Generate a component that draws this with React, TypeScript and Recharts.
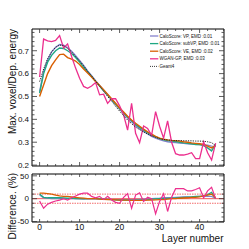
import React from 'react';
import { ComposedChart, Line, XAxis, YAxis, ReferenceLine, Legend } from 'recharts';

const layers = [0,1,2,3,4,5,6,7,8,9,10,11,12,13,14,15,16,17,18,19,20,21,22,23,24,25,26,27,28,29,30,31,32,33,34,35,36,37,38,39,40,41,42,43,44];

const geant4 = [0.565,0.62,0.665,0.695,0.715,0.725,0.722,0.71,0.695,0.675,0.655,0.635,0.61,0.59,0.567,0.545,0.522,0.5,0.48,0.457,0.436,0.416,0.397,0.381,0.366,0.355,0.345,0.336,0.328,0.321,0.316,0.312,0.31,0.308,0.307,0.307,0.307,0.306,0.306,0.305,0.305,0.304,0.302,0.298,0.285];
const caloVP = [0.52,0.61,0.66,0.695,0.715,0.727,0.724,0.713,0.698,0.678,0.657,0.636,0.612,0.591,0.569,0.548,0.527,0.507,0.487,0.466,0.445,0.425,0.406,0.389,0.373,0.359,0.347,0.336,0.326,0.318,0.311,0.306,0.302,0.3,0.298,0.296,0.295,0.293,0.292,0.291,0.29,0.289,0.287,0.283,0.282];
const caloSubVP = [0.515,0.6,0.65,0.68,0.7,0.712,0.71,0.7,0.688,0.67,0.65,0.628,0.607,0.587,0.566,0.546,0.526,0.507,0.487,0.467,0.447,0.428,0.41,0.394,0.378,0.365,0.353,0.342,0.332,0.323,0.316,0.311,0.307,0.305,0.303,0.3,0.297,0.295,0.293,0.29,0.29,0.285,0.275,0.262,0.292];
const caloVE = [0.5,0.55,0.6,0.635,0.66,0.683,0.685,0.67,0.663,0.655,0.64,0.62,0.603,0.585,0.565,0.548,0.53,0.51,0.49,0.47,0.45,0.432,0.414,0.397,0.383,0.37,0.357,0.345,0.335,0.326,0.318,0.313,0.31,0.308,0.307,0.305,0.302,0.3,0.297,0.295,0.293,0.29,0.283,0.275,0.285];
const wgan = [0.585,0.751,0.743,0.74,0.745,0.766,0.712,0.73,0.675,0.624,0.58,0.544,0.536,0.546,0.561,0.507,0.51,0.47,0.49,0.49,0.459,0.42,0.353,0.47,0.339,0.298,0.371,0.36,0.33,0.434,0.37,0.318,0.393,0.3,0.25,0.244,0.244,0.248,0.254,0.228,0.228,0.302,0.254,0.222,0.296];

const diffVP = [8,2,1,0,0,0,0,0,0,0,-0.5,-0.5,-0.5,-0.5,-0.5,-1,-1,-1.5,-1.5,-2,-2,-2,-2,-2,-2,-1.5,-1,-0.5,0,0.5,1,2,2.5,2.5,3,3.5,4,4,4,4.5,5,5,5,5,1];
const diffSubVP = [10,3,2,2,2,2,1.5,1,1,0,0,-0.5,0,0,0,-0.5,-1,-1.5,-2,-2.5,-3,-3,-3,-3.5,-3,-3,-2.5,-2,-1,-0.5,0,0,0.5,1,1.5,2.5,3,3.5,4,5,5,6,9,14,0];
const diffVE = [12,12,11,10,8,6,5,5,4,3,2,1,0,0,0,-1,-1.5,-2,-2,-2.5,-3,-3,-3,-3.5,-3.5,-3.5,-3.5,-3,-3,-2.5,-2,-2,-1,0,0,1,1.5,2,3,3,4,6,8,10,2];
const diffWGAN = [-5,-21,-12,-8,-5,-3,0,-3,2,6,10,12,12,5,2,5,-2,5,-3,-8,-10,3,11,-21,8,13,-6,3,0,-33,-6,11,-28,3,22,22,22,17,17,20,24,2,17,25,0];

const xTicks = [0,2,4,6,8,10,12,14,16,18,20,22,24,26,28,30,32,34,36,38,40,42,44,46];
const xMajor = [0,10,20,30,40];
const yTopTicks = [0.2,0.22,0.24,0.26,0.28,0.3,0.32,0.34,0.36,0.38,0.4,0.42,0.44,0.46,0.48,0.5,0.52,0.54,0.56,0.58,0.6,0.62,0.64,0.66,0.68,0.7,0.72,0.74,0.76,0.78];
const yTopMajor = [0.2,0.3,0.4,0.5,0.6,0.7];
const yBotTicks = [-50,-40,-30,-20,-10,0,10,20,30,40,50];
const yBotMajor = [-50,0,50];

const seriesNames = ['CaloScore: VP, EMD :0.01','CaloScore: subVP, EMD :0.01','CaloScore: VE, EMD :0.02','WGAN-GP, EMD :0.03','Geant4'];
const colors = ['#8580cc','#1fa883','#d95f02','#ec2f8e','#222222'];

const topData = layers.map((l, i) => ({ layer: l, vp: caloVP[i], subvp: caloSubVP[i], ve: caloVE[i], wgan: wgan[i], g4: geant4[i] }));
const botData = layers.map((l, i) => ({ layer: l, vp: diffVP[i], subvp: diffSubVP[i], ve: diffVE[i], wgan: diffWGAN[i] }));

const FONT = '"Liberation Sans", Arial, Helvetica, sans-serif';
const isIn = (arr: number[], v: number) => arr.some((a) => Math.abs(a - v) < 1e-6);
const TICK = '#333';

const makeLeftTick = (major: number[], fmt: (v: number) => string) => (props: any) => {
  const { x, y, payload } = props;
  const mj = isIn(major, payload.value);
  return (
    <g>
      <line x1={x} x2={x + (mj ? 5 : 2.5)} y1={y} y2={y} stroke={TICK} strokeWidth={0.8} />
      {mj && (
        <text x={x - 3} y={y} dy="0.35em" textAnchor="end" fontSize={8} fontFamily={FONT} fill="#111">
          {fmt(payload.value)}
        </text>
      )}
    </g>
  );
};
const makeRightTick = (major: number[]) => (props: any) => {
  const { x, y, payload } = props;
  const mj = isIn(major, payload.value);
  return <line x1={x} x2={x - (mj ? 5 : 2.5)} y1={y} y2={y} stroke={TICK} strokeWidth={0.8} />;
};
const makeBottomTick = (len: number, showLabel: boolean) => (props: any) => {
  const { x, y, payload } = props;
  const mj = isIn(xMajor, payload.value);
  return (
    <g>
      <line x1={x} x2={x} y1={y} y2={y - (mj ? len : len / 2)} stroke={TICK} strokeWidth={0.8} />
      {mj && showLabel && (
        <text x={x} y={y + 8.2} textAnchor="middle" fontSize={8.5} fontFamily={FONT} fill="#111">
          {payload.value}
        </text>
      )}
    </g>
  );
};
const makeTopTick = (len: number) => (props: any) => {
  const { x, y, payload } = props;
  const mj = isIn(xMajor, payload.value);
  return <line x1={x} x2={x} y1={y} y2={y + (mj ? len : len / 2)} stroke={TICK} strokeWidth={0.8} />;
};

const LegendBox = () => (
  <svg width={80} height={42}>
    {seriesNames.map((n, i) => {
      const y = 6 + i * 7.6;
      return (
        <g key={n}>
          <line x1={0} x2={8.3} y1={y} y2={y} stroke={colors[i]} strokeWidth={i === 4 ? 0.9 : 1.3} strokeDasharray={i === 4 ? '1 1' : undefined} />
          <text x={9.6} y={y} dy="0.35em" fontSize={4.5} fontFamily={FONT} fill="#111">{n}</text>
        </g>
      );
    })}
  </svg>
);

const xDomain: [number, number] = [-1.9, 46.1];

export default function App() {
  return (
    <div style={{ position: 'absolute', left: 0, top: 0, width: 249, height: 249, background: '#fff' }}>
      <div style={{ position: 'absolute', left: 0, top: 0 }}>
        <ComposedChart width={249} height={170} data={topData} margin={{ top: 0, right: 0, bottom: 0, left: 0 }}>
          <XAxis dataKey="layer" type="number" xAxisId="b" domain={xDomain} ticks={xTicks} interval={0} allowDataOverflow
            height={4} tickSize={0} tickMargin={0} tickLine={false} axisLine={{ stroke: '#000' }} tick={makeBottomTick(4, false)} />
          <XAxis dataKey="layer" type="number" xAxisId="t" orientation="top" domain={xDomain} ticks={xTicks} interval={0} allowDataOverflow
            height={29} tickSize={0} tickMargin={0} tickLine={false} axisLine={{ stroke: '#000' }} tick={makeTopTick(4)} />
          <YAxis yAxisId="l" type="number" domain={[0.196, 0.795]} ticks={yTopTicks} interval={0} allowDataOverflow width={32}
            tickSize={0} tickMargin={0} tickLine={false} axisLine={{ stroke: '#000' }} tick={makeLeftTick(yTopMajor, (v) => v.toFixed(1))}
            label={() => (
              <text x={15.5} y={29} transform="rotate(-90 15.5 29)" textAnchor="end" fontSize={10} fontFamily={FONT} fill="#111">
                Max. voxel/Dep. energy
              </text>
            )} />
          <YAxis yAxisId="r" orientation="right" type="number" domain={[0.196, 0.795]} ticks={yTopTicks} interval={0} allowDataOverflow width={25}
            tickSize={0} tickMargin={0} tickLine={false} axisLine={{ stroke: '#000' }} tick={makeRightTick(yTopMajor)} />
          <Line xAxisId="b" yAxisId="l" dataKey="vp" stroke={colors[0]} strokeWidth={1.4} dot={false} isAnimationActive={false} />
          <Line xAxisId="b" yAxisId="l" dataKey="subvp" stroke={colors[1]} strokeWidth={1.4} dot={false} isAnimationActive={false} />
          <Line xAxisId="b" yAxisId="l" dataKey="ve" stroke={colors[2]} strokeWidth={1.4} dot={false} isAnimationActive={false} />
          <Line xAxisId="b" yAxisId="l" dataKey="wgan" stroke={colors[3]} strokeWidth={1.3} dot={false} isAnimationActive={false} />
          <Line xAxisId="b" yAxisId="l" dataKey="g4" stroke={colors[4]} strokeWidth={1} strokeDasharray="1.2 1.2" dot={false} isAnimationActive={false} />
          <Legend layout="horizontal" verticalAlign="middle" align="center" content={() => <LegendBox />}
            wrapperStyle={{ position: 'absolute', left: 150, top: 30, width: 80, height: 42 }} />
        </ComposedChart>
      </div>
      <div style={{ position: 'absolute', left: 0, top: 170 }}>
        <ComposedChart width={249} height={79} data={botData} margin={{ top: 0, right: 0, bottom: 0, left: 0 }}>
          <XAxis dataKey="layer" type="number" xAxisId="b" domain={xDomain} ticks={xTicks} interval={0} allowDataOverflow
            height={27} tickSize={0} tickMargin={0} tickLine={false} axisLine={{ stroke: '#000' }} tick={makeBottomTick(3, true)}
            label={() => (
              <text x={223.5} y={71.5} textAnchor="end" fontSize={10} fontFamily={FONT} fill="#111">Layer number</text>
            )} />
          <XAxis dataKey="layer" type="number" xAxisId="t" orientation="top" domain={xDomain} ticks={xTicks} interval={0} allowDataOverflow
            height={4} tickSize={0} tickMargin={0} tickLine={false} axisLine={{ stroke: '#000' }} tick={makeTopTick(3)} />
          <YAxis yAxisId="l" type="number" domain={[-51, 54]} ticks={yBotTicks} interval={0} allowDataOverflow width={32}
            tickSize={0} tickMargin={0} tickLine={false} axisLine={{ stroke: '#000' }} tick={makeLeftTick(yBotMajor, (v) => String(v))}
            label={() => (
              <text x={15.5} y={3} transform="rotate(-90 15.5 3)" textAnchor="end" fontSize={10} fontFamily={FONT} fill="#111">
                Difference. (%)
              </text>
            )} />
          <YAxis yAxisId="r" orientation="right" type="number" domain={[-51, 54]} ticks={yBotTicks} interval={0} allowDataOverflow width={25}
            tickSize={0} tickMargin={0} tickLine={false} axisLine={{ stroke: '#000' }} tick={makeRightTick(yBotMajor)} />
          <ReferenceLine xAxisId="b" yAxisId="l" y={0} stroke="#f04545" strokeWidth={0.9} />
          <ReferenceLine xAxisId="b" yAxisId="l" y={10} stroke="#f04545" strokeWidth={0.8} strokeDasharray="1.5 1" />
          <ReferenceLine xAxisId="b" yAxisId="l" y={-10} stroke="#f04545" strokeWidth={0.8} strokeDasharray="1.5 1" />
          <Line xAxisId="b" yAxisId="l" dataKey="vp" stroke={colors[0]} strokeWidth={1.3} dot={false} isAnimationActive={false} />
          <Line xAxisId="b" yAxisId="l" dataKey="subvp" stroke={colors[1]} strokeWidth={1.3} dot={false} isAnimationActive={false} />
          <Line xAxisId="b" yAxisId="l" dataKey="ve" stroke={colors[2]} strokeWidth={1.3} dot={false} isAnimationActive={false} />
          <Line xAxisId="b" yAxisId="l" dataKey="wgan" stroke={colors[3]} strokeWidth={1.2} dot={false} isAnimationActive={false} />
        </ComposedChart>
      </div>
    </div>
  );
}
